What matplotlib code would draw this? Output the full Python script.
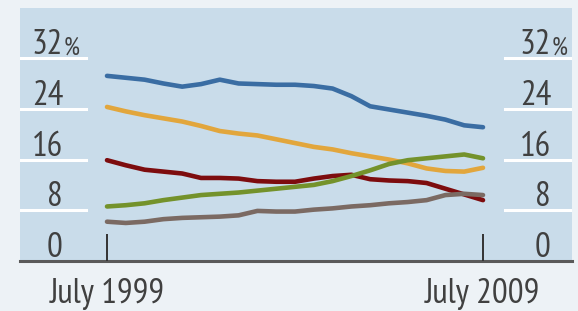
import matplotlib
matplotlib.use("Agg")
import matplotlib.pyplot as plt
import matplotlib.transforms as mtransforms
from matplotlib import font_manager

names = {f.name for f in font_manager.fontManager.ttflist}
FONT = "DejaVu Sans"
for cand in ["PT Sans Narrow", "Roboto Condensed", "Asap Condensed", "Archivo Narrow",
             "Barlow Semi Condensed"]:
    if cand in names:
        FONT = cand
        break
plt.rcParams['font.family'] = [FONT, 'DejaVu Sans']

# ---- data (decimal years, values in %) ----
years = [1999.5, 2000.0, 2000.5, 2001.0, 2001.5, 2002.0, 2002.5, 2003.0, 2003.5,
         2004.0, 2004.5, 2005.0, 2005.5, 2006.0, 2006.5, 2007.0, 2007.5, 2008.0,
         2008.5, 2009.0, 2009.5]
blue = [29.2, 28.9, 28.6, 28.0, 27.5, 27.9, 28.6, 28.0, 27.9, 27.8, 27.8, 27.6,
        27.2, 26.0, 24.4, 23.9, 23.4, 22.9, 22.3, 21.4, 21.1]
orange = [24.3, 23.6, 23.0, 22.5, 22.0, 21.3, 20.5, 20.1, 19.8, 19.2, 18.6, 18.0,
          17.6, 17.0, 16.5, 16.0, 15.4, 14.6, 14.2, 14.1, 14.7]
red = [15.9, 15.1, 14.4, 14.1, 13.8, 13.1, 13.1, 13.0, 12.6, 12.5, 12.5, 13.0,
       13.4, 13.6, 12.9, 12.7, 12.6, 12.3, 11.4, 10.5, 9.6]
green = [8.6, 8.8, 9.1, 9.6, 10.0, 10.4, 10.6, 10.8, 11.1, 11.4, 11.7, 12.0,
         12.6, 13.4, 14.3, 15.3, 15.9, 16.2, 16.5, 16.8, 16.2]
brown = [6.2, 6.0, 6.2, 6.6, 6.8, 6.9, 7.0, 7.2, 7.9, 7.8, 7.8, 8.1, 8.3, 8.6,
         8.8, 9.1, 9.3, 9.6, 10.4, 10.6, 10.4]

series = [blue, orange, red, green, brown]
colors = ["#3a6da3", "#e2a63c", "#7d0c0e", "#74922b", "#7b6a63"]

yticks = [0, 8, 16, 24, 32]
xtick_pos = [1999.5, 2009.5]
xtick_labels = ["July 1999", "July 2009"]

# ---- figure ----
W, H = 578, 311
fig = plt.figure(figsize=(W / 100, H / 100), dpi=100, facecolor="#edf2f6")
px = lambda x0, y0, w, h: [x0 / W, 1 - (y0 + h) / H, w / W, h / H]
ax = fig.add_axes(px(20, 8, 552, 253))
ax.set_facecolor("#c9dcea")

scale = 37.6  # px per year
ax.set_xlim(1999.5 - 87 / scale, 1999.5 + 465 / scale)
ax.set_ylim(0, 253 / 6.34)

for s in ax.spines.values():
    s.set_visible(False)
ax.set_xticks([])
ax.set_yticks([])

# fit font size so "July 1999" is ~115 px wide
renderer = fig.canvas.get_renderer()
probe = fig.text(0, 0, xtick_labels[0], fontsize=20)
wpx = probe.get_window_extent(renderer).width
probe.remove()
fs = 20 * 115 / wpx

# gridline stubs
for v in yticks[1:]:
    ax.axhline(v, xmin=0, xmax=66 / 552, color="white", lw=2.2, zorder=1)
    ax.axhline(v, xmin=485 / 552, xmax=1, color="white", lw=2.2, zorder=1)

# baseline
ax.axhline(0, color="#5a5a5a", lw=2.2, zorder=3, clip_on=False)

# tick marks
for xp in xtick_pos:
    ax.plot([xp, xp], [0, 27 / 6.34], color="#333333", lw=1.4, zorder=3,
            solid_capstyle="butt")

for vals, c in zip(series, colors):
    ax.plot(years, vals, color=c, lw=3.3, zorder=2, solid_capstyle="round",
            solid_joinstyle="round")

# y labels
trans = mtransforms.blended_transform_factory(ax.transAxes, ax.transData)
tc = "#404040"
for v in yticks:
    for xf in (43 / 552, 531 / 552):
        ax.text(xf, v + 0.6, str(v), transform=trans, ha="right", va="baseline",
                fontsize=fs, color=tc)
    if v == 32:
        for xf in (43 / 552, 531 / 552):
            ax.text(xf + 0.5 / 552, v + 0.6, "%", transform=trans, ha="left",
                    va="baseline", fontsize=fs * 0.72, color=tc)

# x labels
transx = mtransforms.blended_transform_factory(ax.transData, fig.transFigure)
for xp, lab in zip(xtick_pos, xtick_labels):
    ax.text(xp, 8 / H, lab, transform=transx, ha="center", va="baseline",
            fontsize=fs, color=tc)

fig.savefig("out.png", dpi=100, facecolor=fig.get_facecolor())
